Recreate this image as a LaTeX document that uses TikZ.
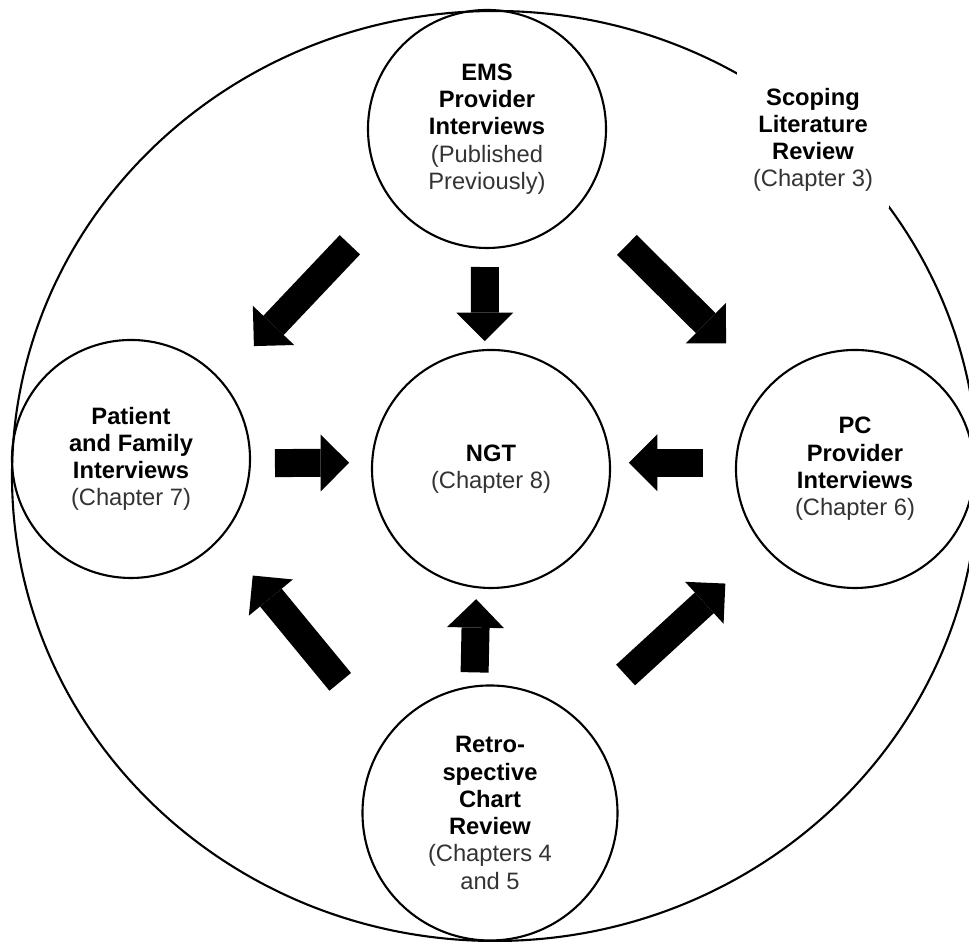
\documentclass[tikz,border=0pt]{standalone}
\usepackage{fontspec}
\setmainfont{Liberation Sans}
\usetikzlibrary{arrows.meta,shapes.geometric}
\newcommand{\chapnote}[1]{{\mdseries\color{black!80}#1}}
\begin{document}
\begin{tikzpicture}[every node/.style={font=\fontsize{6.75}{7.75}\selectfont\bfseries,align=center,inner sep=0},
    study/.style={draw,circle,line width=.6pt,minimum size=2.38cm},
    bigarrow/.style={line width=2.8mm,-{Triangle[width=5.7mm,length=2.85mm,line width=0pt]}}]
    \clip (0,0) rectangle (9.69,9.42);
          \node [draw,ellipse,line width=.6pt,minimum width=9.66cm,minimum height=9.3cm] (scoping) at (4.95,4.66) {};
          \node [fill=white,minimum width=1.52cm,minimum height=1.37cm] (scopingtext) at (8.13,8.02) {Scoping\\Literature\\Review\\\chapnote{(Chapter 3)}};
          \node [study] (ems) at (4.87,8.13) {EMS\\Provider\\Interviews\\\chapnote{(Published}\\\chapnote{Previously)}};
          \node [study] (ngt) at (4.91,4.73) {NGT\\\chapnote{(Chapter 8)}};
          \node [study] (pat) at (1.31,4.83) {Patient\\and Family\\Interviews\\\chapnote{(Chapter 7)}};
          \node [study] (pc) at (8.55,4.73) {PC\\Provider\\Interviews\\\chapnote{(Chapter 6)}};
          \node [study,minimum size=2.55cm] (retro) at (4.90,1.29) {Retro-\\spective\\Chart\\Review\\\chapnote{(Chapters 4}\\\chapnote{and 5}};
          \draw [bigarrow,shorten <=.60cm,shorten >=.47cm] (ems.217) -- (pat.41);
          \draw [bigarrow,shorten <=.18cm,shorten >=.08cm] (ems.-91) -- (ngt.93);
          \draw [bigarrow,shorten <=.62cm,shorten >=.60cm] (ems.-37) -- (pc.136);
          \draw [bigarrow,shorten <=.24cm,shorten >=.22cm] (pat.-2) -- (ngt.177);
          \draw [bigarrow,shorten <=.32cm,shorten >=.18cm] (pc.177) -- (ngt.3);
          \draw [bigarrow,shorten <=.72cm,shorten >=.49cm] (retro.144) -- (pat.-41);
          \draw [bigarrow,shorten <=.13cm,shorten >=.11cm] (retro.97) -- (ngt.-97);
          \draw [bigarrow,shorten <=.65cm,shorten >=.53cm] (retro.47) -- (pc.-139);
        \end{tikzpicture}
\end{document}
